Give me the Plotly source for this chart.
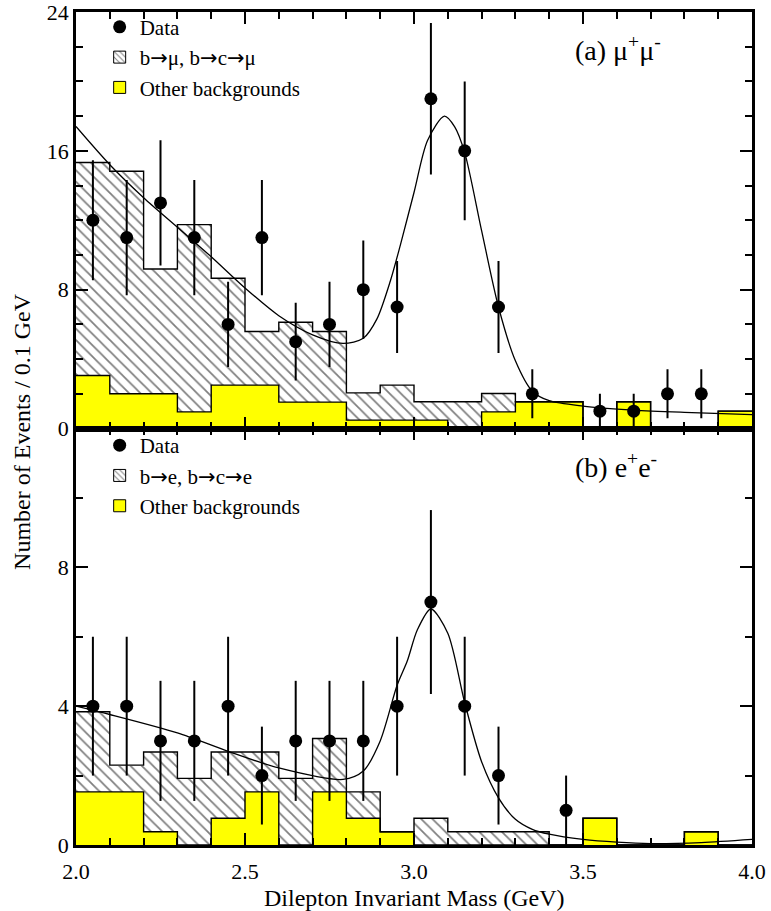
import plotly.graph_objects as go
from plotly.subplots import make_subplots

# ---------------- data ----------------
bin_left = [2.0, 2.1, 2.2, 2.3, 2.4, 2.5, 2.6, 2.7, 2.8, 2.9,
            3.0, 3.1, 3.2, 3.3, 3.4, 3.5, 3.6, 3.7, 3.8, 3.9]
bin_width = 0.1

# (a) mu+ mu-
mu_other = [3.05, 2.0, 2.0, 0.96, 2.5, 2.5, 1.52, 1.52, 0.48, 0.48,
            0.48, 0.0, 0.96, 1.54, 1.54, 0.0, 1.54, 0.0, 0.0, 1.0]
mu_bsemi = [12.28, 12.82, 7.19, 10.79, 6.16, 3.09, 4.60, 4.07, 1.57, 2.02,
            1.06, 1.54, 1.06, 0.0, 0.0, 0.0, 0.0, 0.0, 0.0, 0.0]
mu_data_x = [2.05, 2.15, 2.25, 2.35, 2.45, 2.55, 2.65, 2.75, 2.85, 2.95,
             3.05, 3.15, 3.25, 3.35, 3.55, 3.65, 3.75, 3.85]
mu_data_y = [12, 11, 13, 11, 6, 11, 5, 6, 8, 7, 19, 16, 7, 2, 1, 1, 2, 2]
mu_data_err = [3.46, 3.32, 3.61, 3.32, 2.45, 3.32, 2.24, 2.45, 2.83, 2.65,
               4.36, 4.0, 2.65, 1.41, 1.0, 1.0, 1.41, 1.41]
mu_fit_x = [2.00, 2.10, 2.20, 2.30, 2.40, 2.50, 2.60, 2.70, 2.79, 2.85, 2.89,
            2.93, 2.96, 3.00, 3.04, 3.09, 3.12, 3.15, 3.20, 3.25, 3.30, 3.35,
            3.40, 3.50, 3.65, 3.80, 4.00]
mu_fit_y = [17.4, 15.2, 13.3, 11.6, 9.9, 8.1, 6.5, 5.4, 4.9, 5.2, 6.3,
            8.5, 10.6, 13.6, 16.6, 18.0, 17.4, 15.9, 11.4, 7.0, 3.9, 2.15,
            1.6, 1.29, 1.06, 0.93, 0.8]

# (b) e+ e-
e_other = [1.53, 1.53, 0.38, 0.0, 0.77, 1.53, 0.0, 1.53, 0.77, 0.38,
           0.0, 0.0, 0.0, 0.0, 0.0, 0.77, 0.0, 0.0, 0.38, 0.0]
e_bsemi = [2.31, 0.77, 2.30, 1.92, 1.91, 1.15, 1.92, 1.54, 0.76, 0.0,
           0.77, 0.38, 0.38, 0.38, 0.0, 0.0, 0.0, 0.0, 0.0, 0.0]
e_data_x = [2.05, 2.15, 2.25, 2.35, 2.45, 2.55, 2.65, 2.75, 2.85, 2.95,
            3.05, 3.15, 3.25, 3.45]
e_data_y = [4, 4, 3, 3, 4, 2, 3, 3, 3, 4, 7, 4, 2, 1]
e_data_err = [2.0, 2.0, 1.73, 1.73, 2.0, 1.41, 1.73, 1.73, 1.73, 2.0,
              2.65, 2.0, 1.41, 1.0]
e_fit_x = [2.00, 2.10, 2.30, 2.45, 2.60, 2.79, 2.85, 2.90, 2.95, 2.98,
           3.01, 3.05, 3.10, 3.15, 3.20, 3.25, 3.30, 3.35, 3.40, 3.50,
           3.60, 3.70, 3.85, 4.00]
e_fit_y = [4.0, 3.76, 3.23, 2.70, 2.22, 1.89, 2.13, 3.0, 4.6, 5.3,
           6.2, 6.8, 6.1, 4.1, 2.4, 1.36, 0.74, 0.45, 0.31, 0.16,
           0.08, 0.04, 0.07, 0.16]

ARROW = '<span style="font-family:DejaVu Sans">\u2192</span>'
mu_labels = ["Data", "b" + ARROW + "\u03bc, b" + ARROW + "c" + ARROW + "\u03bc",
             "Other backgrounds"]
e_labels = ["Data", "b" + ARROW + "e, b" + ARROW + "c" + ARROW + "e",
            "Other backgrounds"]
x_ticks = [2.0, 2.5, 3.0, 3.5, 4.0]
mu_y_ticks = [0, 8, 16, 24]
e_y_ticks = [0, 4, 8]

# ---------------- figure ----------------
FONT = "Liberation Serif"
YELLOW = "#ffff00"
bin_centers = [b + bin_width / 2 for b in bin_left]
edges = bin_left + [bin_left[-1] + bin_width]

fig = make_subplots(rows=2, cols=1, shared_xaxes=True, vertical_spacing=0)


def add_panel(row, other, bsemi, dx, dy, derr, fx, fy, labels, legend):
    total = [o + b for o, b in zip(other, bsemi)]
    fig.add_trace(go.Bar(x=bin_centers, y=other, width=bin_width,
                         marker=dict(color=YELLOW, line=dict(width=0)),
                         showlegend=False, hoverinfo="skip"), row=row, col=1)
    fig.add_trace(go.Bar(x=bin_centers, y=bsemi, width=bin_width,
                         marker=dict(color="white", line=dict(width=0),
                                     pattern=dict(shape="\\", fgcolor="black",
                                                  bgcolor="white", size=8,
                                                  solidity=0.22)),
                         showlegend=False, hoverinfo="skip"), row=row, col=1)
    # outlines
    fig.add_trace(go.Scatter(x=edges, y=other + [other[-1]], mode="lines",
                             line=dict(color="black", width=1.4, shape="hv"),
                             showlegend=False, hoverinfo="skip"), row=row, col=1)
    fig.add_trace(go.Scatter(x=edges, y=total + [total[-1]], mode="lines",
                             line=dict(color="black", width=1.4, shape="hv"),
                             showlegend=False, hoverinfo="skip"), row=row, col=1)
    # fit curve
    fig.add_trace(go.Scatter(x=fx, y=fy, mode="lines",
                             line=dict(color="black", width=1.3, shape="spline",
                                       smoothing=0.8),
                             showlegend=False, hoverinfo="skip"), row=row, col=1)
    # data
    fig.add_trace(go.Scatter(x=dx, y=dy, mode="markers",
                             marker=dict(color="black", size=13),
                             error_y=dict(type="data", array=derr, color="black",
                                          thickness=2, width=0),
                             name=labels[0], legend=legend, legendgroup=legend + "a",
                             showlegend=True), row=row, col=1)
    # legend proxies
    fig.add_trace(go.Bar(x=[None], y=[None], name=labels[1], legend=legend,
                         legendgroup=legend + "b",
                         marker=dict(color="white", line=dict(color="black", width=1),
                                     pattern=dict(shape="\\", fgcolor="black",
                                                  bgcolor="white", size=5,
                                                  solidity=0.25))),
                  row=row, col=1)
    fig.add_trace(go.Bar(x=[None], y=[None], name=labels[2], legend=legend,
                         legendgroup=legend + "c",
                         marker=dict(color=YELLOW, line=dict(color="black", width=1))),
                  row=row, col=1)


add_panel(1, mu_other, mu_bsemi, mu_data_x, mu_data_y, mu_data_err,
          mu_fit_x, mu_fit_y, mu_labels, "legend")
add_panel(2, e_other, e_bsemi, e_data_x, e_data_y, e_data_err,
          e_fit_x, e_fit_y, e_labels, "legend2")

axis_common = dict(showline=True, linecolor="black", linewidth=2.5, mirror="ticks",
                   ticks="inside", tickcolor="black", tickwidth=2, ticklen=12,
                   showgrid=False, zeroline=False, automargin=False,
                   ticklabeloverflow="allow",
                   tickfont=dict(family=FONT, size=22, color="black"))

fig.update_xaxes(range=[2.0, 4.0], tickvals=x_ticks, tickformat=".1f",
                 minor=dict(dtick=0.1, ticks="inside", ticklen=7, tickwidth=1.5,
                            tickcolor="black", showgrid=False),
                 ticklabelstandoff=5, **axis_common)
fig.update_xaxes(showticklabels=False, row=1, col=1)
fig.update_yaxes(range=[0, 24], tickvals=mu_y_ticks,
                 minor=dict(dtick=2, ticks="inside", ticklen=7, tickwidth=1.5,
                            tickcolor="black", showgrid=False),
                 **axis_common, row=1, col=1)
fig.update_yaxes(range=[0, 12], tickvals=e_y_ticks,
                 minor=dict(dtick=2, ticks="inside", ticklen=7, tickwidth=1.5,
                            tickcolor="black", showgrid=False),
                 **axis_common, row=2, col=1)

legend_common = dict(font=dict(family=FONT, size=21, color="black"),
                     bgcolor="rgba(0,0,0,0)", borderwidth=0,
                     traceorder="grouped", tracegroupgap=0,
                     xanchor="left", yanchor="top", itemsizing="trace")
fig.update_layout(
    barmode="stack", bargap=0,
    width=771, height=911,
    margin=dict(l=76, r=19, t=12, b=66, autoexpand=False),
    plot_bgcolor="white", paper_bgcolor="white",
    font=dict(family=FONT, color="black"),
    legend=dict(x=0.035, y=1.0064, **legend_common),
    legend2=dict(x=0.035, y=0.5042, **legend_common),
    annotations=[
        dict(text="(a) \u03bc<sup>+</sup>\u03bc<sup>-</sup>", x=3.47, y=21.9,
             xref="x", yref="y", xanchor="left", yanchor="middle", showarrow=False,
             font=dict(family=FONT, size=28, color="black")),
        dict(text="(b) e<sup>+</sup>e<sup>-</sup>", x=3.47, y=10.93,
             xref="x2", yref="y2", xanchor="left", yanchor="middle", showarrow=False,
             font=dict(family=FONT, size=28, color="black")),
        dict(text="Number of Events / 0.1 GeV", x=-0.080, y=0.497,
             xref="paper", yref="paper", textangle=-90, showarrow=False,
             xanchor="center", yanchor="middle",
             font=dict(family=FONT, size=24, color="black")),
        dict(text="Dilepton Invariant Mass (GeV)", x=0.5, y=-0.0635,
             xref="paper", yref="paper", showarrow=False,
             xanchor="center", yanchor="middle",
             font=dict(family=FONT, size=24, color="black")),
    ],
)

fig.write_html("out.html",
               config={"displayModeBar": False},
               post_script="document.body.style.margin='0px';"
                           "document.body.style.overflow='hidden';")
